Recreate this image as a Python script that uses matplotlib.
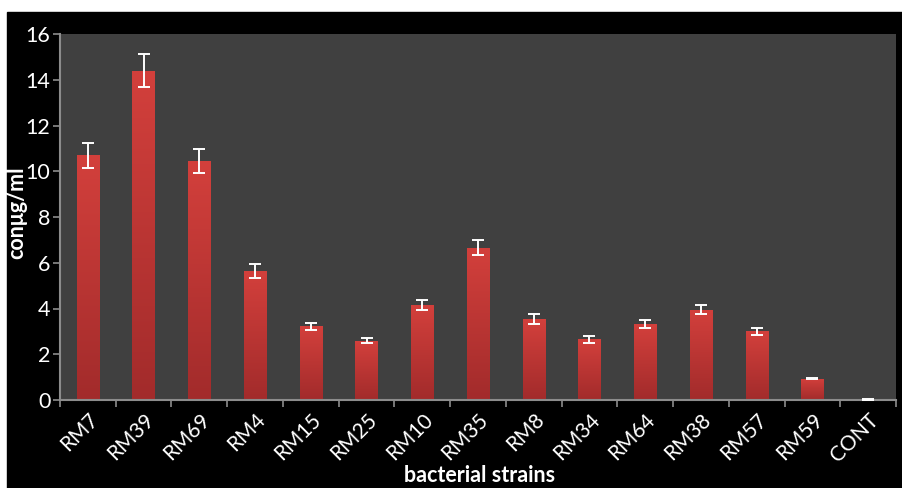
import numpy as np
import matplotlib.pyplot as plt
from matplotlib.patches import Rectangle
from matplotlib.colors import LinearSegmentedColormap

strains = ['RM7', 'RM39', 'RM69', 'RM4', 'RM15', 'RM25', 'RM10', 'RM35',
           'RM8', 'RM34', 'RM64', 'RM38', 'RM57', 'RM59', 'CONT']
values = [10.7, 14.4, 10.44, 5.65, 3.23, 2.6, 4.15, 6.65,
          3.54, 2.66, 3.32, 3.94, 3.0, 0.93, 0.03]
errors = [0.55, 0.72, 0.52, 0.3, 0.15, 0.13, 0.2, 0.33,
          0.2, 0.15, 0.18, 0.2, 0.16, 0.03, 0.01]

plt.rcParams['font.family'] = ['Lato', 'DejaVu Sans']

fig = plt.figure(figsize=(9.02, 4.88), dpi=100, facecolor='white')
fig.add_artist(Rectangle((7 / 902, 0), 1, 1 - 12 / 488,
                         transform=fig.transFigure, color='black',
                         zorder=-5))

ax = fig.add_axes([60 / 902, 88 / 488, 836 / 902, 366 / 488])
ax.set_facecolor('#404040')

x = np.arange(len(strains))
bars = ax.bar(x, values, 0.4, color='#c23434', zorder=2)

# vertical red gradient inside each bar
red_grad = LinearSegmentedColormap.from_list('redgrad', ['#a22b2b', '#d3403c'])
grad = np.linspace(0, 1, 256).reshape(-1, 1)
for b in bars:
    x0, w, h = b.get_x(), b.get_width(), b.get_height()
    if h <= 0:
        continue
    im = ax.imshow(grad, cmap=red_grad, origin='lower', aspect='auto',
                   extent=(x0, x0 + w, 0, h), zorder=2.5)
    im.set_clip_path(b)

ax.errorbar(x, values, yerr=errors, fmt='none', ecolor='white',
            elinewidth=1.4, capsize=4.5, capthick=1.4, zorder=3)

ax.set_xlim(-0.5, len(strains) - 0.5)
ax.set_ylim(0, 16)
ax.set_yticks(range(0, 17, 2))

ax.set_xticks(x)
ax.set_xticklabels(strains, rotation=45, ha='right', rotation_mode='anchor')
ax.set_xticks(np.arange(-0.5, len(strains), 1), minor=True)
ax.tick_params(axis='x', which='major', length=0, pad=7,
               labelsize=15, labelcolor='white')
ax.tick_params(axis='x', which='minor', length=5, width=1.2,
               color='#8c8c8c', direction='out')
ax.tick_params(axis='y', length=5, width=1.2, color='#8c8c8c',
               labelsize=15.5, labelcolor='white', pad=2)

for side in ['top', 'right']:
    ax.spines[side].set_visible(False)
for side in ['left', 'bottom']:
    ax.spines[side].set_color('#8c8c8c')
    ax.spines[side].set_linewidth(1.5)

fig.text(0.532, 0.026, 'bacterial strains', ha='center', va='center',
         color='white', fontsize=15.5, fontweight='bold')
fig.text(0.019, 0.565, 'conμg/ml', ha='center', va='center', rotation=90,
         color='white', fontsize=15.5, fontweight='bold')

fig.savefig('out.png', dpi=100, facecolor='white')
